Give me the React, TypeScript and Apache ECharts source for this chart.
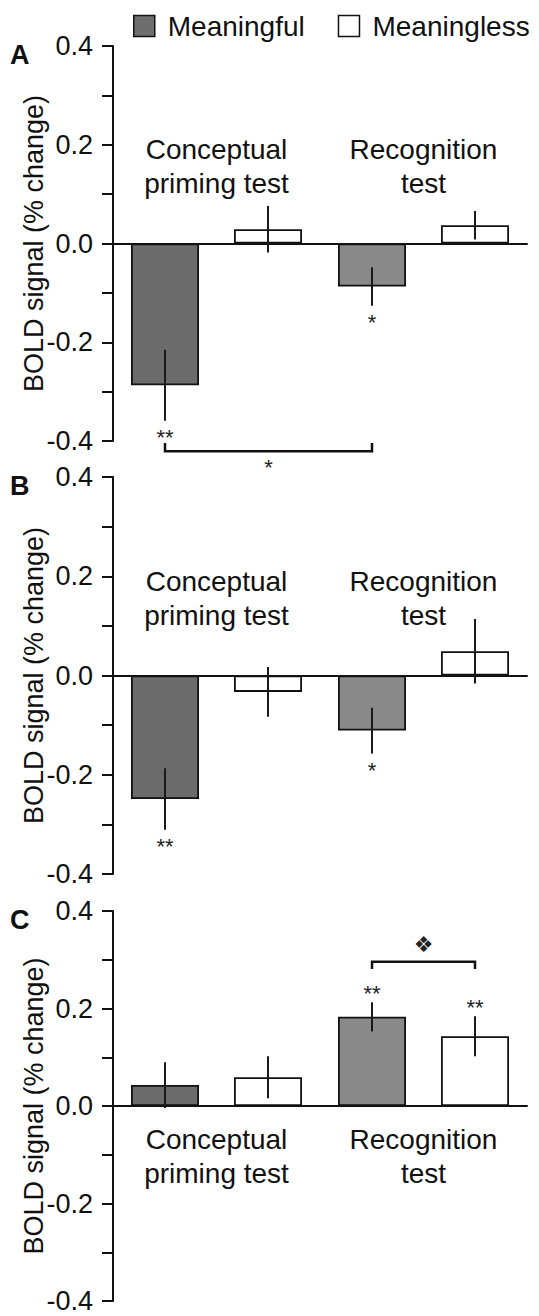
import React, { useEffect, useRef } from 'react';
import * as echarts from 'echarts';

// ---------- data ----------
const categories = ['Conceptual\npriming test', 'Recognition\ntest'];
const seriesNames = ['Meaningful', 'Meaningless'];
const panelLetters = ['A', 'B', 'C'];
const yAxisTitle = 'BOLD signal (% change)';

// Panel A
const meaningfulA = [-0.287, -0.087];
const meaningfulErrA = [0.072, 0.039];
const meaninglessA = [0.029, 0.037];
const meaninglessErrA = [0.047, 0.029];
const sigMeaningfulA = ['**', '*'];
const sigMeaninglessA = ['', ''];

// Panel B
const meaningfulB = [-0.249, -0.111];
const meaningfulErrB = [0.062, 0.046];
const meaninglessB = [-0.033, 0.049];
const meaninglessErrB = [0.05, 0.065];
const sigMeaningfulB = ['**', '*'];
const sigMeaninglessB = ['', ''];

// Panel C
const meaningfulC = [0.043, 0.183];
const meaningfulErrC = [0.047, 0.03];
const meaninglessC = [0.059, 0.143];
const meaninglessErrC = [0.043, 0.041];
const sigMeaningfulC = ['', '**'];
const sigMeaninglessC = ['', '**'];

// comparison brackets: [category, series] of both ends, bracket level, end-tick level, label
const bracketA = { from: [0, 0], to: [1, 0], level: -0.421, end: -0.404, label: '*' };
const bracketC = { from: [1, 0], to: [1, 1], level: 0.296, end: 0.281, label: '\u2756' };

// ---------- styling constants ----------
const FONT = '"Liberation Sans", Arial, Helvetica, "DejaVu Sans", sans-serif';
const INK = '#111';
const MEANINGFUL_COLORS = ['#6b6b6b', '#8a8a8a'];
const GRID_LEFT = 113;
const GRID_RIGHT = 12;
const PANEL_TOPS = [46, 477, 911];
const PANEL_HEIGHTS = [395, 397, 390];
const BAR_WIDTH = 68;
const BAR_GAP_PX = 35;
const BAR_OFFSET = (BAR_WIDTH + BAR_GAP_PX) / 2;

const panels = [
  { mf: meaningfulA, mfErr: meaningfulErrA, ml: meaninglessA, mlErr: meaninglessErrA, sigMf: sigMeaningfulA, sigMl: sigMeaninglessA, bracket: bracketA, labelsAbove: true },
  { mf: meaningfulB, mfErr: meaningfulErrB, ml: meaninglessB, mlErr: meaninglessErrB, sigMf: sigMeaningfulB, sigMl: sigMeaninglessB, bracket: null, labelsAbove: true },
  { mf: meaningfulC, mfErr: meaningfulErrC, ml: meaninglessC, mlErr: meaninglessErrC, sigMf: sigMeaningfulC, sigMl: sigMeaninglessC, bracket: bracketC, labelsAbove: false },
];

function buildOption() {
  const grid: any[] = [];
  const xAxis: any[] = [];
  const yAxis: any[] = [];
  const series: any[] = [];
  const graphic: any[] = [];

  panels.forEach((p, i) => {
    grid.push({
      left: GRID_LEFT,
      right: GRID_RIGHT,
      top: PANEL_TOPS[i],
      height: PANEL_HEIGHTS[i],
      containLabel: false,
      outerBoundsMode: 'none',
    });
    xAxis.push({
      type: 'category',
      gridIndex: i,
      data: categories,
      axisLine: { onZero: true, lineStyle: { color: INK, width: 2 } },
      axisTick: { show: false },
      axisLabel: { show: false },
      z: 4,
    });
    yAxis.push({
      type: 'value',
      gridIndex: i,
      min: -0.4,
      max: 0.4,
      interval: 0.1,
      name: yAxisTitle,
      nameLocation: 'middle',
      nameGap: 66,
      nameMoveOverlap: false,
      nameTextStyle: { fontSize: 27, color: INK, fontFamily: FONT },
      axisLine: { show: true, lineStyle: { color: INK, width: 2 } },
      axisTick: { show: true, length: 11, lineStyle: { color: INK, width: 2 } },
      splitLine: { show: false },
      axisLabel: {
        fontSize: 27,
        lineHeight: 20,
        color: INK,
        fontFamily: FONT,
        margin: 20,
        formatter: (v: number) => {
          const k = Math.round(v * 10);
          if (k % 2 !== 0) return '';
          if (k === 0) return '0.0';
          return (k / 10).toFixed(1);
        },
      },
    });

    series.push({
      type: 'bar',
      name: seriesNames[0],
      xAxisIndex: i,
      yAxisIndex: i,
      barWidth: BAR_WIDTH,
      barGap: `${(BAR_GAP_PX / BAR_WIDTH) * 100}%`,
      data: p.mf.map((v, k) => ({ value: v, itemStyle: { color: MEANINGFUL_COLORS[k] } })),
      itemStyle: { borderColor: INK, borderWidth: 1.8 },
    });
    series.push({
      type: 'bar',
      name: seriesNames[1],
      xAxisIndex: i,
      yAxisIndex: i,
      barWidth: BAR_WIDTH,
      barGap: `${(BAR_GAP_PX / BAR_WIDTH) * 100}%`,
      data: p.ml.map((v) => v),
      itemStyle: { color: '#ffffff', borderColor: INK, borderWidth: 1.8 },
    });

    // category labels, anchored to the zero line of each panel
    const above = p.labelsAbove;
    series.push({
      type: 'custom',
      xAxisIndex: i,
      yAxisIndex: i,
      z: 6,
      clip: false,
      silent: true,
      data: categories.map((_, k) => [k, 0]),
      renderItem: (params: any, api: any) => {
        const pt = api.coord([api.value(0), 0]);
        return {
          type: 'text',
          x: pt[0],
          y: above ? pt[1] - 43 : pt[1] + 16,
          style: {
            text: categories[params.dataIndex],
            fontSize: 28,
            lineHeight: 34,
            fontFamily: FONT,
            fill: INK,
            align: 'center',
            verticalAlign: above ? 'bottom' : 'top',
          },
        };
      },
    });

    // error bars + significance marks
    const errData: any[] = [];
    const sigs: string[] = [];
    p.mf.forEach((v, k) => { errData.push([k, v, p.mfErr[k], 0]); sigs.push(p.sigMf[k]); });
    p.ml.forEach((v, k) => { errData.push([k, v, p.mlErr[k], 1]); sigs.push(p.sigMl[k]); });
    series.push({
      type: 'custom',
      xAxisIndex: i,
      yAxisIndex: i,
      z: 6,
      clip: false,
      silent: true,
      data: errData,
      renderItem: (params: any, api: any) => {
        const cat = api.value(0);
        const val = api.value(1);
        const err = api.value(2);
        const s = api.value(3);
        const cx = api.coord([cat, val])[0] + (s === 0 ? -BAR_OFFSET : BAR_OFFSET);
        const yTop = api.coord([cat, val + err])[1];
        const yBot = api.coord([cat, val - err])[1];
        const children: any[] = [
          { type: 'line', shape: { x1: cx, y1: yTop, x2: cx, y2: yBot }, style: { stroke: '#1a1a1a', lineWidth: 2 } },
        ];
        const sig = sigs[params.dataIndex];
        if (sig) {
          const below = val < 0;
          const y = below ? yBot + 17 : yTop - 9;
          children.push({
            type: 'text',
            x: cx,
            y,
            style: { text: sig, fontSize: 22, fontFamily: FONT, fill: '#222', align: 'center', verticalAlign: 'middle' },
          });
        }
        return { type: 'group', children };
      },
    });

    if (p.bracket) {
      const b = p.bracket;
      series.push({
        type: 'custom',
        xAxisIndex: i,
        yAxisIndex: i,
        z: 6,
        clip: false,
        silent: true,
        data: [[b.from[0], b.level]],
        renderItem: (params: any, api: any) => {
          const x1 = api.coord([b.from[0], 0])[0] + (b.from[1] === 0 ? -BAR_OFFSET : BAR_OFFSET);
          const x2 = api.coord([b.to[0], 0])[0] + (b.to[1] === 0 ? -BAR_OFFSET : BAR_OFFSET);
          const yL = api.coord([0, b.level])[1];
          const yE = api.coord([0, b.end])[1];
          const labelBelow = b.end > b.level;
          return {
            type: 'group',
            children: [
              { type: 'polyline', shape: { points: [[x1, yE], [x1, yL], [x2, yL], [x2, yE]] }, style: { stroke: INK, lineWidth: 2.5, fill: 'none' } },
              {
                type: 'text',
                x: (x1 + x2) / 2,
                y: labelBelow ? yL + 16 : yL - 17,
                style: {
                  text: b.label,
                  fontSize: 22,
                  fontFamily: labelBelow ? FONT : '"DejaVu Sans", sans-serif',
                  fill: '#222',
                  align: 'center',
                  verticalAlign: 'middle',
                },
              },
            ],
          };
        },
      });
    }

    graphic.push({
      type: 'text',
      x: 10,
      y: PANEL_TOPS[i] + 9,
      style: { text: panelLetters[i], font: `bold 27px ${FONT}`, fill: INK, verticalAlign: 'middle' },
    });
  });

  return {
    animation: false,
    backgroundColor: '#ffffff',
    textStyle: { fontFamily: FONT },
    legend: {
      data: [
        { name: seriesNames[0], itemStyle: { color: '#6e6e6e', borderColor: INK, borderWidth: 1.5 } },
        { name: seriesNames[1], itemStyle: { color: '#ffffff', borderColor: INK, borderWidth: 1.5 } },
      ],
      left: 133,
      top: 12,
      width: 420,
      padding: 0,
      orient: 'horizontal',
      icon: 'rect',
      itemWidth: 21,
      itemHeight: 21,
      itemGap: 33,
      selectedMode: false,
      textStyle: { fontSize: 28, color: INK, fontFamily: FONT, padding: [0, 0, 0, 8] },
    },
    grid,
    xAxis,
    yAxis,
    series,
    graphic,
  };
}

export default function App() {
  const ref = useRef<HTMLDivElement>(null);
  useEffect(() => {
    document.body.style.margin = '0';
    if (!ref.current) return;
    const chart = echarts.init(ref.current, undefined, { renderer: 'svg' });
    chart.setOption(buildOption() as any);
    return () => chart.dispose();
  }, []);
  return <div ref={ref} style={{ width: 539, height: 1316 }} />;
}
